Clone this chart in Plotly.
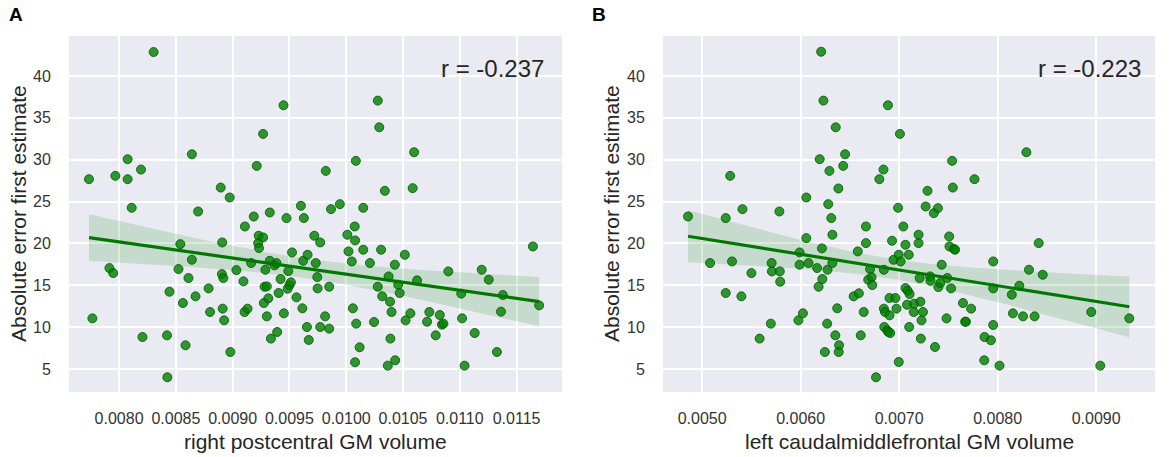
import numpy as np
import plotly.graph_objects as go

# ---------------- data ----------------
y_ticks = [5, 10, 15, 20, 25, 30, 35, 40]
a_x_ticks = [0.0080, 0.0085, 0.0090, 0.0095, 0.0100, 0.0105, 0.0110, 0.0115]
b_x_ticks = [0.0050, 0.0060, 0.0070, 0.0080, 0.0090]

a_title = "right postcentral GM volume"
b_title = "left caudalmiddlefrontal GM volume"
y_title = "Absolute error first estimate"
a_r_text = "r = -0.237"
b_r_text = "r = -0.223"

a_x = [0.007735, 0.007765, 0.007915, 0.007948, 0.007967, 0.008075, 0.008075, 0.008111, 0.008193, 0.008206,
       0.008304, 0.008422, 0.008425, 0.008444, 0.008523, 0.008539, 0.008562, 0.008585, 0.008611, 0.008641,
       0.008641, 0.008673, 0.008696, 0.008788, 0.008801, 0.008895, 0.008905, 0.008908, 0.008912, 0.008918,
       0.008925, 0.008974, 0.008980, 0.009033, 0.009095, 0.009105, 0.009108, 0.009131, 0.009163, 0.009186,
       0.009212, 0.009229, 0.009225, 0.009232, 0.009268, 0.009268, 0.009275, 0.009281, 0.009288, 0.009301,
       0.009301, 0.009314, 0.009327, 0.009327, 0.009337, 0.009369, 0.009386, 0.009392, 0.009405, 0.009422,
       0.009448, 0.009451, 0.009474, 0.009484, 0.009490, 0.009500, 0.009513, 0.009523, 0.009562, 0.009601,
       0.009614, 0.009621, 0.009627, 0.009654, 0.009660, 0.009670, 0.009719, 0.009732, 0.009745, 0.009748,
       0.009771, 0.009771, 0.009814, 0.009820, 0.009850, 0.009850, 0.009866, 0.009944, 0.010010, 0.010020,
       0.010049, 0.010059, 0.010075, 0.010078, 0.010085, 0.010078, 0.010088, 0.010118, 0.010150, 0.010150,
       0.010209, 0.010245, 0.010278, 0.010278, 0.010291, 0.010307, 0.010317, 0.010340, 0.010366, 0.010373,
       0.010386, 0.010389, 0.010399, 0.010428, 0.010431, 0.010458, 0.010471, 0.010516, 0.010523, 0.010565,
       0.010585, 0.010598, 0.010624, 0.010712, 0.010732, 0.010788, 0.010824, 0.010843, 0.010856, 0.010899,
       0.011013, 0.011020, 0.011042, 0.011131, 0.011193, 0.011255, 0.011327, 0.011363, 0.011379, 0.011644,
       0.011699]
a_y = [27.67, 11.04, 17.05, 16.45, 28.07, 30.06, 27.67, 24.25, 28.82, 8.81,
       42.86, 9.01, 4.00, 14.22, 16.93, 19.91, 12.87, 7.82, 15.86, 18.04,
       30.65, 13.67, 23.81, 14.62, 11.80, 26.67, 16.33, 20.11, 12.20, 15.86,
       10.80, 25.48, 7.02, 16.81, 15.46, 11.80, 22.02, 12.20, 17.65, 23.21,
       29.26, 20.91, 20.03, 19.44, 33.08, 20.71, 12.87, 14.82, 16.85, 14.86,
       11.28, 13.43, 23.69, 17.92, 8.62, 17.37, 17.65, 9.41, 14.07, 15.74,
       36.50, 11.64, 23.02, 14.58, 16.69, 15.00, 15.34, 18.92, 13.55, 24.49,
       12.24, 17.92, 23.02, 10.01, 18.64, 8.46, 20.91, 17.65, 15.97, 14.62,
       20.11, 10.01, 11.28, 28.66, 9.81, 14.82, 24.09, 24.69, 21.03, 19.04,
       17.84, 12.24, 22.02, 20.35, 29.86, 5.79, 10.41, 7.58, 19.24, 24.25,
       17.65, 10.60, 37.06, 14.82, 33.87, 19.24, 13.67, 26.28, 5.39, 16.05,
       13.03, 8.62, 11.80, 17.45, 6.03, 15.06, 14.07, 18.64, 10.80, 11.64,
       26.60, 30.89, 15.58, 10.64, 11.80, 9.01, 11.44, 10.29, 10.41, 16.65,
       13.99, 11.04, 5.39, 9.29, 16.85, 15.66, 7.02, 11.84, 13.83, 19.63,
       12.59]

b_x = [0.004856, 0.005080, 0.005239, 0.005239, 0.005284, 0.005303, 0.005398, 0.005409, 0.005500, 0.005583,
       0.005697, 0.005705, 0.005708, 0.005784, 0.005788, 0.005792, 0.005977, 0.005989, 0.005989, 0.006023,
       0.006057, 0.006057, 0.006080, 0.006167, 0.006182, 0.006193, 0.006208, 0.006216, 0.006220, 0.006231,
       0.006246, 0.006269, 0.006273, 0.006280, 0.006292, 0.006311, 0.006322, 0.006322, 0.006356, 0.006352,
       0.006371, 0.006383, 0.006390, 0.006386, 0.006432, 0.006451, 0.006538, 0.006580, 0.006591, 0.006610,
       0.006640, 0.006663, 0.006663, 0.006686, 0.006705, 0.006720, 0.006727, 0.006765, 0.006799, 0.006841,
       0.006845, 0.006845, 0.006849, 0.006856, 0.006879, 0.006886, 0.006890, 0.006902, 0.006902, 0.006909,
       0.006928, 0.006943, 0.006962, 0.006973, 0.006989, 0.006996, 0.006996, 0.007008, 0.007015, 0.007042,
       0.007064, 0.007064, 0.007080, 0.007087, 0.007098, 0.007102, 0.007106, 0.007148, 0.007152, 0.007197,
       0.007197, 0.007208, 0.007216, 0.007220, 0.007227, 0.007242, 0.007269, 0.007288, 0.007314, 0.007318,
       0.007352, 0.007364, 0.007394, 0.007398, 0.007417, 0.007432, 0.007481, 0.007489, 0.007508, 0.007511,
       0.007527, 0.007538, 0.007545, 0.007557, 0.007568, 0.007648, 0.007670, 0.007678, 0.007731, 0.007765,
       0.007864, 0.007867, 0.007932, 0.007955, 0.007955, 0.007955, 0.008019, 0.008144, 0.008155, 0.008220,
       0.008258, 0.008292, 0.008318, 0.008375, 0.008417, 0.008458, 0.008951, 0.009042, 0.009337]
b_y = [23.21, 17.65, 23.02, 14.07, 28.07, 17.84, 13.67, 24.09, 16.45, 8.62,
       10.41, 17.65, 16.65, 23.81, 16.65, 15.42, 10.80, 18.92, 17.45, 11.64,
       25.48, 20.63, 17.65, 17.05, 14.82, 30.06, 42.90, 19.40, 15.74, 37.06,
       7.02, 10.41, 16.85, 24.69, 28.66, 23.02, 21.03, 17.65, 33.87, 9.01,
       12.24, 26.56, 7.82, 7.02, 29.26, 30.65, 13.67, 19.04, 14.03, 9.01,
       11.80, 22.02, 20.03, 15.66, 16.93, 15.97, 15.02, 4.00, 27.67, 28.82,
       16.85, 12.20, 10.01, 11.80, 9.61, 36.50, 9.41, 13.47, 11.40, 9.29,
       20.31, 18.04, 13.47, 12.20, 24.25, 5.83, 18.64, 33.08, 17.84, 22.02,
       19.83, 14.66, 12.67, 14.34, 18.64, 10.01, 13.95, 11.80, 12.79, 21.03,
       20.03, 15.86, 13.03, 8.62, 10.80, 11.80, 24.41, 26.28, 16.05, 15.54,
       23.61, 7.62, 24.21, 14.78, 15.26, 17.45, 11.04, 15.86, 20.83, 19.63,
       14.62, 29.86, 26.67, 19.32, 19.24, 12.87, 10.64, 10.64, 12.20, 27.67,
       6.03, 8.81, 8.42, 17.84, 14.62, 10.25, 5.39, 13.87, 11.64, 14.94,
       11.28, 30.89, 16.85, 11.28, 20.03, 16.25, 11.80, 5.39, 11.04]

# ---------------- style ----------------
BG = "#EAEAF2"
FONT = "Arial, Liberation Sans, sans-serif"
PT_FILL = "rgba(0,128,0,0.80)"
PT_EDGE = "rgba(0,95,0,0.85)"
LINE_C = "#007800"
BAND_C = "rgba(0,128,0,0.15)"

W, H = 1170, 457
A_DOM = [69 / W, 562 / W]
B_DOM = [663 / W, 1155 / W]
Y_DOM = [(H - 392) / H, (H - 36) / H]
A_RANGE = [0.007559, 0.011900]
B_RANGE = [0.004602, 0.009598]
Y_RANGE = [2.24, 44.78]


def reg_traces(x, y, xa, ya):
    x = np.asarray(x, float)
    y = np.asarray(y, float)
    n = len(x)
    b1, b0 = np.polyfit(x, y, 1)
    xs = np.linspace(x.min(), x.max(), 120)
    yh = b0 + b1 * xs
    resid = y - (b0 + b1 * x)
    s = np.sqrt(np.sum(resid ** 2) / (n - 2))
    sxx = np.sum((x - x.mean()) ** 2)
    t = 1.977
    half = t * s * np.sqrt(1.0 / n + (xs - x.mean()) ** 2 / sxx)
    band = go.Scatter(
        x=np.concatenate([xs, xs[::-1]]),
        y=np.concatenate([yh + half, (yh - half)[::-1]]),
        fill="toself", fillcolor=BAND_C, line=dict(width=0),
        mode="lines", hoverinfo="skip", showlegend=False, xaxis=xa, yaxis=ya)
    pts = go.Scatter(
        x=x, y=y, mode="markers", showlegend=False, xaxis=xa, yaxis=ya,
        marker=dict(size=9, color=PT_FILL, line=dict(color=PT_EDGE, width=1)))
    line = go.Scatter(
        x=xs, y=yh, mode="lines", showlegend=False, xaxis=xa, yaxis=ya,
        line=dict(color=LINE_C, width=3.2))
    return [band, pts, line]


fig = go.Figure()
for tr in reg_traces(a_x, a_y, "x", "y") + reg_traces(b_x, b_y, "x2", "y2"):
    fig.add_trace(tr)

common_axis = dict(
    showline=False, zeroline=False, gridcolor="white", gridwidth=1.6,
    tickfont=dict(family=FONT, size=16, color="#333333"),
    ticks="outside", tickcolor="rgba(0,0,0,0)",
)

fig.update_layout(
    width=W, height=H,
    margin=dict(l=0, r=0, t=0, b=0),
    paper_bgcolor="white", plot_bgcolor=BG,
    showlegend=False,
    xaxis=dict(domain=A_DOM, range=A_RANGE, tickvals=a_x_ticks, tickformat=".4f",
               anchor="y", ticklen=12, **common_axis),
    yaxis=dict(domain=Y_DOM, range=Y_RANGE, tickvals=y_ticks, anchor="x",
               ticklen=14, **common_axis),
    xaxis2=dict(domain=B_DOM, range=B_RANGE, tickvals=b_x_ticks, tickformat=".4f",
                anchor="y2", ticklen=12, **common_axis),
    yaxis2=dict(domain=Y_DOM, range=Y_RANGE, tickvals=y_ticks, anchor="x2",
                ticklen=14, **common_axis),
)

title_font = dict(family=FONT, size=21, color="#262626")
ann = [
    # panel letters
    dict(text="<b>A</b>", x=7 / W, y=(H - 15) / H, xref="paper", yref="paper",
         xanchor="left", yanchor="middle", showarrow=False,
         font=dict(family=FONT, size=19, color="black")),
    dict(text="<b>B</b>", x=590 / W, y=(H - 15) / H, xref="paper", yref="paper",
         xanchor="left", yanchor="middle", showarrow=False,
         font=dict(family=FONT, size=19, color="black")),
    # x titles
    dict(text=a_title, x=0.5, y=(H - 441) / H, xref="x domain", yref="paper",
         xanchor="center", yanchor="middle", showarrow=False, font=title_font),
    dict(text=b_title, x=0.5, y=(H - 441) / H, xref="x2 domain", yref="paper",
         xanchor="center", yanchor="middle", showarrow=False, font=title_font),
    # y titles
    dict(text=y_title, x=18 / W, y=0.5 * (Y_DOM[0] + Y_DOM[1]), xref="paper", yref="paper",
         xanchor="center", yanchor="middle", textangle=-90, showarrow=False, font=title_font),
    dict(text=y_title, x=611 / W, y=0.5 * (Y_DOM[0] + Y_DOM[1]), xref="paper", yref="paper",
         xanchor="center", yanchor="middle", textangle=-90, showarrow=False, font=title_font),
    # r labels
    dict(text=a_r_text, x=0.968, y=0.91, xref="x domain", yref="y domain",
         xanchor="right", yanchor="middle", showarrow=False,
         font=dict(family=FONT, size=24, color="#262626")),
    dict(text=b_r_text, x=0.976, y=0.91, xref="x2 domain", yref="y2 domain",
         xanchor="right", yanchor="middle", showarrow=False,
         font=dict(family=FONT, size=24, color="#262626")),
]
fig.update_layout(annotations=ann)

fig.write_html("out.html",
               config={"displayModeBar": False},
               post_script="document.body.style.margin='0';document.body.style.overflow='hidden';")
